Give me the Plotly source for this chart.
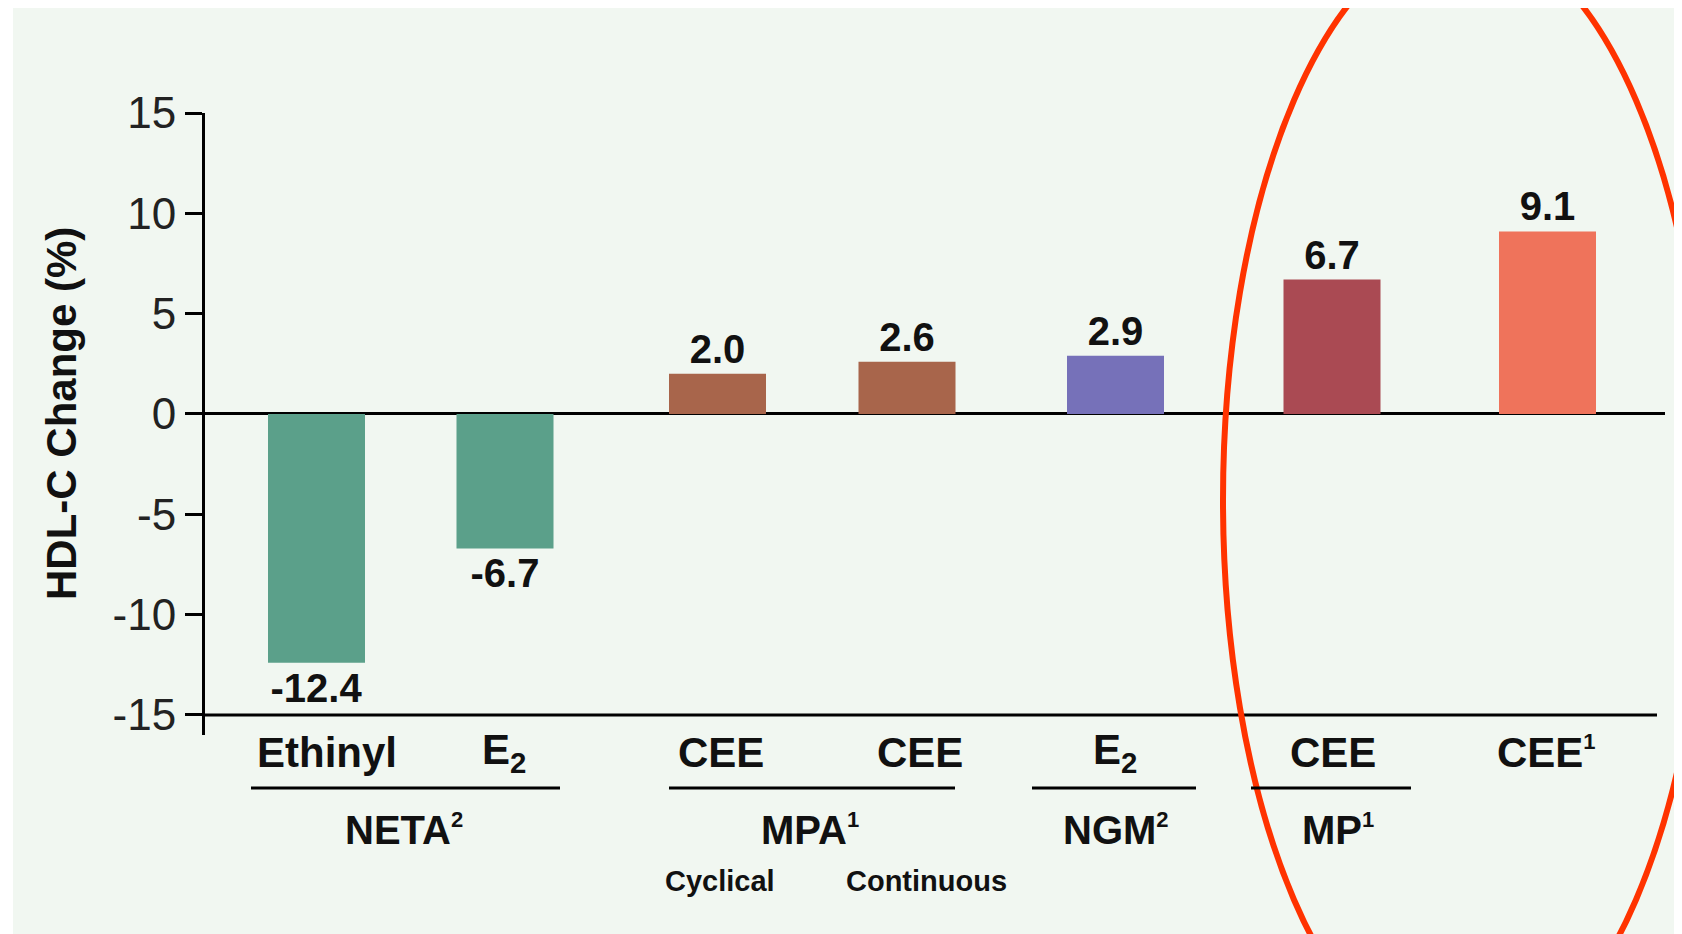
import plotly.graph_objects as go

# data
estrogens = ["Ethinyl", "E<sub>2</sub>", "CEE", "CEE", "E<sub>2</sub>", "CEE", "CEE<sup>1</sup>"]
hdl_change = [-12.4, -6.7, 2.0, 2.6, 2.9, 6.7, 9.1]
progestins = ["NETA<sup>2</sup>", "MPA<sup>1</sup>", "NGM<sup>2</sup>", "MP<sup>1</sup>"]
regimens = ["Cyclical", "Continuous"]
y_ticks = [15, 10, 5, 0, -5, -10, -15]
y_tick_text = ["15", "10", "5", "0", "-5", "-10", "-15"]

# layout (pixel geometry of the 1682x934 page)
W, H = 1682, 934
OFF = 8  # the page body margin shifts the figure by this much
FONT = "Liberation Sans, Arial, sans-serif"
bar_pos = [0.5575, 1.5, 2.5625, 3.51, 4.5525, 5.635, 6.7125]
bar_colors = ["#5BA08A", "#5BA08A", "#A8654B", "#A8654B", "#7671B9", "#AA4A53", "#EF735B"]
label_pos = [0.61, 1.495, 2.58, 3.575, 4.55, 5.64, 6.705]
group_px = [(251, 560), (669, 955), (1032, 1196), (1251, 1411)]
group_label_px = [404, 810, 1116, 1338]
regimen_px = [720, 926]


def px(x):
    return (x - OFF) / W


def py(y):
    return 1 - (y - OFF) / H


def small_sup(text):
    # the footnote marks in the reference are tiny
    return text.replace("<sup>", "<sup><span style='font-size:22px'>").replace("</sup>", "</span></sup>")


def label(x, y, text, size, xref="paper", **kw):
    return dict(x=x, y=y, xref=xref, yref="paper", text=small_sup(text), showarrow=False,
                xanchor="center", yanchor="middle",
                font=dict(family=FONT, size=size, color="#111111", weight="bold"), **kw)


fig = go.Figure(go.Bar(
    x=bar_pos,
    y=hdl_change,
    width=0.485,
    marker=dict(color=bar_colors, line=dict(width=0)),
    text=[f"{v:.1f}" for v in hdl_change],
    textposition="outside",
    constraintext="none",
    cliponaxis=False,
    textfont=dict(family=FONT, size=40, color="#111111", weight="bold"),
    hoverinfo="skip",
))

shapes = [
    # mint panel behind everything
    dict(type="rect", xref="paper", yref="paper", x0=px(13), x1=1, y0=0, y1=1,
         fillcolor="#F1F7F1", line=dict(width=0), layer="below"),
    # baseline at -15
    dict(type="line", xref="x domain", yref="y", x0=0, x1=(1657 - 205) / 1460, y0=-15, y1=-15,
         line=dict(color="#000000", width=3)),
    # red highlight ellipse
    dict(type="circle", xref="paper", yref="paper", x0=px(1223), x1=px(1707),
         y0=py(1065), y1=py(-65), line=dict(color="#FF3300", width=6)),
]
for x0, x1 in group_px:
    shapes.append(dict(type="line", xref="paper", yref="paper", x0=px(x0), x1=px(x1),
                       y0=py(788), y1=py(788), line=dict(color="#000000", width=3)))

annotations = [label(xp, py(752), lab, 42, xref="x") for xp, lab in zip(label_pos, estrogens)]
annotations += [label(px(xc), py(829), lab, 40) for xc, lab in zip(group_label_px, progestins)]
annotations += [label(px(xc), py(881), lab, 29) for xc, lab in zip(regimen_px, regimens)]
annotations.append(label(px(62), py(414), "HDL-C Change (%)", 42, textangle=-90))

fig.update_layout(
    template="none",
    width=W, height=H,
    margin=dict(l=0, r=0, t=0, b=0, pad=0, autoexpand=False),
    paper_bgcolor="#FFFFFF",
    plot_bgcolor="rgba(0,0,0,0)",
    showlegend=False,
    shapes=shapes,
    annotations=annotations,
    xaxis=dict(domain=[px(205), px(1665)], range=[0, 7.3], showline=False, showgrid=False,
               zeroline=False, showticklabels=False, ticks="", fixedrange=True, automargin=False),
    yaxis=dict(domain=[py(735), py(113)], range=[-16, 15], tickvals=y_ticks, ticktext=y_tick_text,
               ticks="outside", ticklen=17, tickwidth=3, tickcolor="#000000",
               showline=True, linewidth=3, linecolor="#000000", showgrid=False,
               zeroline=True, zerolinewidth=3, zerolinecolor="#000000",
               ticklabelstandoff=0, automargin=False,
               tickfont=dict(family=FONT, size=44, color="#222222"), fixedrange=True),
)

fig.write_html("out.html")
